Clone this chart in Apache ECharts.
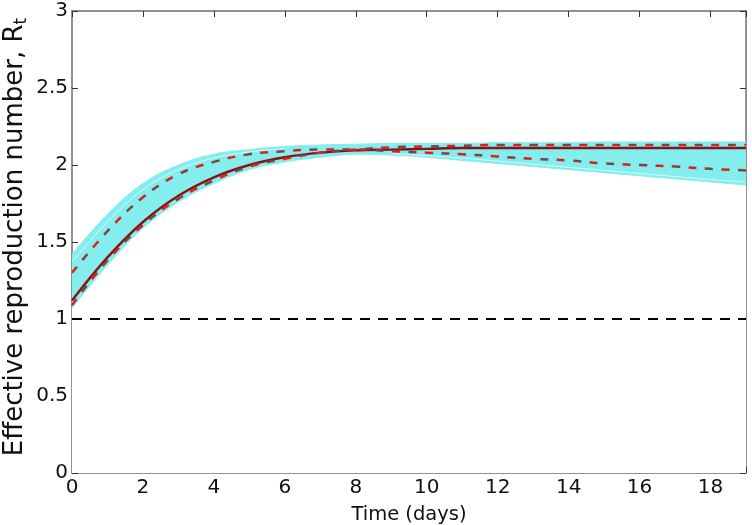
<!DOCTYPE html>
<html>
<head>
<meta charset="utf-8">
<script src="https://cdn.jsdelivr.net/npm/echarts@6/dist/echarts.min.js"></script>
<style>html,body{margin:0;padding:0;background:#fff}#c{width:752px;height:525px}</style>
</head>
<body>
<div id="c"></div>
<script>
var times = [0,1,2,3,4,5,6,7,8,9,10,11,12,13,14,15,16,17,18,19];
var bandUpper = [1.42,1.68,1.88,2.00,2.07,2.10,2.12,2.13,2.135,2.14,2.14,2.14,2.145,2.145,2.145,2.15,2.15,2.15,2.15,2.15];
var bandLower = [1.07,1.35,1.59,1.76,1.88,1.97,2.02,2.05,2.07,2.065,2.05,2.03,2.01,1.99,1.97,1.95,1.93,1.91,1.89,1.87];
var gapTimesA = [0,1,2,3,4,5,6];
var gapLineA  = [1.37,1.63,1.84,1.97,2.045,2.085,2.105];
var gapTimesB = [9,10,11,12,13,14,15,16,17,18,19];
var gapLineB  = [2.075,2.06,2.045,2.025,2.005,1.985,1.965,1.945,1.925,1.905,1.89];
var solidRt   = [1.12,1.40,1.63,1.80,1.92,2.00,2.05,2.08,2.095,2.10,2.105,2.11,2.11,2.11,2.11,2.11,2.11,2.11,2.11,2.11];
var dashedA   = [1.30,1.57,1.79,1.94,2.02,2.07,2.09,2.10,2.10,2.09,2.08,2.07,2.055,2.04,2.03,2.01,2.00,1.99,1.975,1.965];
var dashedB   = [1.09,1.38,1.61,1.78,1.90,1.99,2.04,2.08,2.10,2.115,2.12,2.125,2.13,2.13,2.13,2.13,2.13,2.13,2.13,2.13];
var thresholdX = [0,19];
var thresholdY = [1,1];
var xTicks = [0,2,4,6,8,10,12,14,16,18];
var yTicks = [0,0.5,1,1.5,2,2.5,3];
var yTitle = 'Effective reproduction number, R{sub|t}';

function pairs(xs, ys){ return xs.map(function(x,i){ return [x, ys[i]]; }); }

var font = 'DejaVu Sans, sans-serif';
var axisColor = '#6e6e6e';
var bandColor = '#84eeee';
function dashPair(name, ys){
  return [
    {type: 'line', name: name + 'Dark', data: pairs(times, ys), smooth: 0.4, symbol: 'none',
     lineStyle: {color: '#844040', width: 2.5, type: [8, 25], dashOffset: 16.5}},
    {type: 'line', name: name, data: pairs(times, ys), smooth: 0.4, symbol: 'none',
     lineStyle: {color: '#d82020', width: 2.5, type: [8, 25]}}
  ];
}
var chart = echarts.init(document.getElementById('c'));
chart.setOption({
  animation: false,
  backgroundColor: '#fff',
  grid: {left: 72, right: 6, top: 11, bottom: 52, containLabel: false, outerBoundsMode: 'none'},
  graphic: [{
    type: 'text', x: 15, y: 237, rotation: Math.PI / 2, silent: true,
    style: {text: yTitle, fontFamily: font, fontSize: 26, fill: '#111', align: 'center', verticalAlign: 'middle',
      rich: {sub: {fontFamily: font, fontSize: 17, fill: '#111', padding: [13,0,0,0]}}}
  }],
  xAxis: [{
    type: 'value', min: 0, max: 19, interval: 2,
    name: 'Time (days)', nameLocation: 'middle', nameGap: 32,
    nameTextStyle: {fontFamily: font, fontSize: 19.5, color: '#111'},
    axisLine: {show: true, onZero: false, lineStyle: {color: axisColor, width: 1.5}},
    axisTick: {show: true, inside: true, length: 6, lineStyle: {color: '#333', width: 1}},
    axisLabel: {fontFamily: font, fontSize: 20, color: '#111', margin: 5,
      formatter: function(v){ return xTicks.indexOf(v) >= 0 ? String(v) : ''; }},
    splitLine: {show: false}
  },{
    type: 'value', min: 0, max: 19, interval: 2, position: 'top',
    axisLine: {show: true, onZero: false, lineStyle: {color: axisColor, width: 1.5}},
    axisTick: {show: true, inside: true, length: 6, lineStyle: {color: '#333', width: 1}},
    axisLabel: {show: false}, splitLine: {show: false}
  }],
  yAxis: [{
    type: 'value', min: 0, max: 3, interval: 0.5,
    axisLine: {show: true, onZero: false, lineStyle: {color: axisColor, width: 1.5}},
    axisTick: {show: true, inside: true, length: 6, lineStyle: {color: '#333', width: 1}},
    axisLabel: {fontFamily: font, fontSize: 20, color: '#111', margin: 4,
      formatter: function(v){ return yTicks.indexOf(v) >= 0 ? String(v) : ''; }},
    splitLine: {show: false}
  },{
    type: 'value', min: 0, max: 3, interval: 0.5, position: 'right',
    axisLine: {show: true, onZero: false, lineStyle: {color: axisColor, width: 1.5}},
    axisTick: {show: true, inside: true, length: 6, lineStyle: {color: '#333', width: 1}},
    axisLabel: {show: false}, splitLine: {show: false}
  }],
  series: [
    {type: 'line', name: 'bandTop', data: pairs(times, bandUpper), smooth: 0.4,
     symbol: 'none', lineStyle: {color: bandColor, width: 1}, areaStyle: {color: bandColor, opacity: 1, origin: 'start'}, silent: true},
    {type: 'line', name: 'bandBottom', data: pairs(times, bandLower), smooth: 0.4,
     symbol: 'none', lineStyle: {color: bandColor, width: 1}, areaStyle: {color: '#ffffff', opacity: 1, origin: 'start'}, silent: true},
    {type: 'line', name: 'gapA', data: pairs(gapTimesA, gapLineA), smooth: 0.4, symbol: 'none',
     lineStyle: {color: '#d6fafa', width: 1}, silent: true},
    {type: 'line', name: 'gapB', data: pairs(gapTimesB, gapLineB), smooth: 0.4, symbol: 'none',
     lineStyle: {color: '#d6fafa', width: 1}, silent: true},
    {type: 'line', name: 'threshold', data: pairs(thresholdX, thresholdY), symbol: 'none',
     lineStyle: {color: '#000', width: 2, type: [10, 8]}},
    {type: 'line', name: 'solid', data: pairs(times, solidRt), smooth: 0.4, symbol: 'none',
     lineStyle: {color: '#861414', width: 2.4}}
  ].concat(dashPair('dashedA', dashedA), dashPair('dashedB', dashedB))
});
</script>
</body>
</html>
